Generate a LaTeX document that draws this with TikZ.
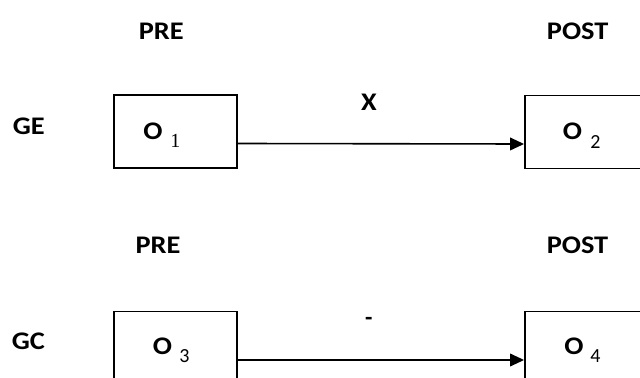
\documentclass[tikz,border=0pt]{standalone}
\usepackage{fontspec}
\setmainfont{Carlito}
\newfontfamily\lblfont[FakeStretch=1.12]{Carlito}
\newfontfamily\serifdigit{Liberation Serif}
\usetikzlibrary{arrows.meta}
\begin{document}
\begin{tikzpicture}[x=0.75pt,y=-0.75pt,
  lbl/.style={font=\lblfont\bfseries\fontsize{19}{21}\selectfont, inner sep=0pt},
  subl/.style={font=\fontsize{15}{17}\selectfont, inner sep=0pt, anchor=base west},
  box/.style={draw, line width=1.4pt, inner sep=0pt, minimum height=54.75pt},
  conn/.style={line width=1.2pt, -{Triangle[length=10.5pt,width=9.5pt]}}]
\useasboundingbox (0,0) rectangle (640,378);
\clip (0,0) rectangle (640,378);

% experimental group
\node[lbl] (pre1)  at (161.3,30.8) {PRE};
\node[lbl] (post1) at (577.7,31.3) {POST};
\node[lbl] (ge)    at (28.8,126.7) {GE};
\node[box, minimum width=92.25pt] (o1) at (175.5,131.5) {};
\node[box, minimum width=187.5pt] (o2) at (650,132) {};
\node[lbl]  (t1) at (153,131) {O};
\node[subl, font=\serifdigit\fontsize{15}{17}\selectfont] (s1) at (170,147) {1};
\node[lbl]  (t2) at (572.5,131.5) {O};
\node[subl] (s2) at (590,148.3) {2};
\node[lbl] (x) at (369,102.5) {X};
\draw[conn] ([yshift=-9pt]o1.east) -- ([yshift=-9pt]o2.west);

% control group
\node[lbl] (pre2)  at (158,244.8) {PRE};
\node[lbl] (post2) at (577.5,245.2) {POST};
\node[lbl] (gc)    at (28.3,341.5) {GC};
\node[box, minimum width=92.25pt] (o3) at (175.5,348) {};
\node[box, minimum width=187.5pt] (o4) at (650,348) {};
\node[lbl]  (t3) at (162.5,346.5) {O};
\node[subl] (s3) at (179,362) {3};
\node[lbl]  (t4) at (574,346) {O};
\node[subl] (s4) at (590,362.3) {4};
\node[font=\bfseries\fontsize{18}{20}\selectfont, inner sep=0pt, anchor=base] (nx) at (368.8,325.7) {-};
\draw[conn] ([yshift=-9pt]o3.east) -- ([yshift=-9pt]o4.west);
\end{tikzpicture}
\end{document}
